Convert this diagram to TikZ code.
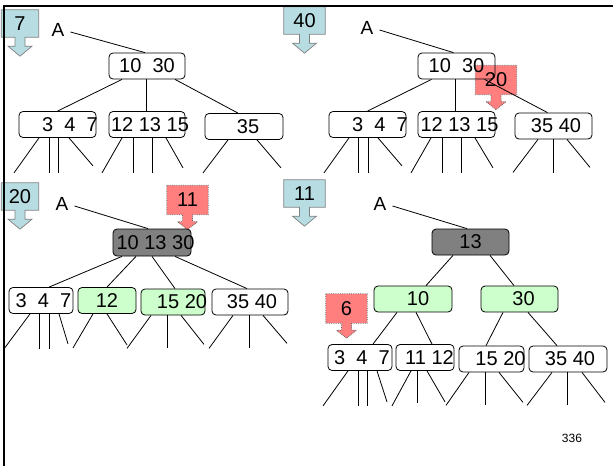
\documentclass[tikz,border=0pt]{standalone}
\usepackage{fontspec}
\setmainfont{Liberation Sans}
\usetikzlibrary{backgrounds}
\definecolor{calloutblue}{RGB}{183,221,227}
\definecolor{calloutred}{RGB}{255,127,127}
\definecolor{keygreen}{RGB}{204,255,204}
\definecolor{keygray}{RGB}{128,128,128}
% key text moved right by #1/2 inside its box
\newcommand\tk[2]{\makebox[0pt]{\hspace*{#1pt}#2}}
% callout outlines: box plus down arrow under it
\newcommand\bluearrow[1]{%
  \filldraw[bluecallpath] (#1.north west) -- (#1.north east) -- (#1.south east)
    -- ([xshift=5pt]#1.south) -- ++(0,9) -- ++(7,0) -- ++(-12,10) -- ++(-12,-10)
    -- ++(7,0) -- ++(0,-9) -- (#1.south west) -- cycle;}
\newcommand\redarrow[1]{%
  \filldraw[redcallpath] (#1.north west) -- (#1.north east) -- (#1.south east)
    -- ([xshift=5pt]#1.south) -- ++(0,7) -- ++(5,0) -- ++(-10,8) -- ++(-10,-8)
    -- ++(5,0) -- ++(0,-7) -- (#1.south west) -- cycle;}
\begin{document}
\begin{tikzpicture}[x=1pt,y=-1pt,
  keyfont/.style={font=\fontsize{20}{24}\selectfont},
  keybox/.style={draw, rounded corners=4pt, inner sep=0pt, minimum height=26pt,
    line width=0.8pt, keyfont},
  greenbox/.style={keybox, fill=keygreen},
  graybox/.style={keybox, fill=keygray},
  bluecall/.style={inner sep=0pt, minimum width=41pt, minimum height=27pt, keyfont},
  redcall/.style={inner sep=0pt, minimum width=41pt, minimum height=29pt, keyfont},
  bluecallpath/.style={fill=calloutblue, draw=keygray, line width=0.7pt},
  redcallpath/.style={fill=calloutred, draw=black!60, densely dotted, line width=0.8pt},
  rootlabel/.style={inner sep=0pt, font=\fontsize{19}{23}\selectfont},
  edge/.style={line width=0.8pt},
  framerule/.style={line width=2.5pt}]
\useasboundingbox (0,0) rectangle (613,466);

% ---------- insertion callouts ----------
\node[bluecall, minimum width=37pt] (k7) at (20,23.5) {7};
\node[bluecall] (k40) at (304.5,20.5) {40};
\node[bluecall, minimum width=37pt] (k20) at (20,196.5) {20};
\node[bluecall] (k11) at (304.5,193.5) {11};
\node[redcall] (k20r) at (496,80) {20};
\node[redcall] (k11r) at (187.5,200) {11};
\node[redcall] (k6) at (346.5,308.5) {6};
\begin{pgfonlayer}{background}
  \bluearrow{k7}\bluearrow{k40}\bluearrow{k20}\bluearrow{k11}
  \redarrow{k20r}\redarrow{k11r}\redarrow{k6}
\end{pgfonlayer}

% ---------- slide frame ----------
\draw[framerule] (4,466) -- (4,6) -- (613,6);

% ---------- tree 1: after inserting 7 ----------
\node[rootlabel] (A1) at (58,30) {A};
\node[keybox, minimum width=76pt] (r1) at (147,66) {10~~30};
\node[keybox, minimum width=77pt] (a1) at (57.5,124.5) {\tk{25}{3~~4~~7}};
\node[keybox, minimum width=76pt] (b1) at (147,124.5) {\tk{6}{12 13 15}};
\node[keybox, minimum width=78pt] (c1) at (244,126.5) {\tk{8}{35}};
\draw[edge] ([xshift=6pt,yshift=-2pt]A1.east) -- ([xshift=-2pt]r1.north);
\draw[edge] ([xshift=-25pt]r1.south) -- (a1.north);
\draw[edge] ([xshift=-1pt]r1.south) -- ([xshift=-1pt,yshift=-1pt]b1.north);
\draw[edge] ([xshift=28pt]r1.south) -- ([xshift=-6pt]c1.north);
\draw[edge] ([xshift=-18.5pt]a1.south) -- ++(-25,35);
\draw[edge] ([xshift=-8.5pt]a1.south) -- ++(0,35);
\draw[edge] ([xshift=0.5pt]a1.south) -- ++(0,35);
\draw[edge] ([xshift=11.5pt]a1.south) -- ++(24,28);
\draw[edge] ([xshift=-25pt]b1.south) -- ++(-20,35);
\draw[edge] ([xshift=-14pt]b1.south) -- ++(0,35);
\draw[edge] ([xshift=5pt]b1.south) -- ++(0,35);
\draw[edge] ([xshift=19pt]b1.south) -- ++(17,30);
\draw[edge] ([xshift=-16pt]c1.south) -- ++(-25,33);
\draw[edge] ([xshift=13pt]c1.south) -- ++(24,28);

% ---------- tree 2: after inserting 40 ----------
\node[rootlabel] (A2) at (367,28) {A};
\node[keybox, minimum width=77pt] (r2) at (456.5,66) {10~~30};
\node[keybox, minimum width=77pt] (a2) at (367.5,124.5) {\tk{25}{3~~4~~7}};
\node[keybox, minimum width=77pt] (b2) at (456.5,124.5) {\tk{6}{12 13 15}};
\node[keybox, minimum width=77pt] (c2) at (553.5,126) {\tk{5}{35 40}};
\draw[edge] ([xshift=6pt,yshift=-2pt]A2.east) -- ([xshift=-3pt]r2.north);
\draw[edge] ([xshift=-25pt]r2.south) -- (a2.north);
\draw[edge] ([xshift=-1pt]r2.south) -- ([xshift=-1pt,yshift=-1pt]b2.north);
\draw[edge] ([xshift=28pt]r2.south) -- ([xshift=-6pt]c2.north);
\draw[edge] ([xshift=-18.5pt]a2.south) -- ++(-25,35);
\draw[edge] ([xshift=-9.5pt]a2.south) -- ++(0,35);
\draw[edge] ([xshift=0.5pt]a2.south) -- ++(0,35);
\draw[edge] ([xshift=10.5pt]a2.south) -- ++(24,28);
\draw[edge] ([xshift=-25.5pt]b2.south) -- ++(-20,35);
\draw[edge] ([xshift=-14.5pt]b2.south) -- ++(0,35);
\draw[edge] ([xshift=4.5pt]b2.south) -- ++(0,35);
\draw[edge] ([xshift=18.5pt]b2.south) -- ++(18,30);
\draw[edge] ([xshift=-15.5pt]c2.south) -- ++(-25,33);
\draw[edge] (c2.south) -- ++(0,34);
\draw[edge] ([xshift=13.5pt]c2.south) -- ++(23,28);

% ---------- tree 3: after inserting 20 ----------
\node[rootlabel] (A3) at (62,204) {A};
\node[graybox, minimum width=78pt, minimum height=27pt] (r3) at (152,242.5) {\tk{7}{10 13 30}};
\node[keybox, minimum width=64pt] (a3) at (41,300.5) {\tk{5}{3~~4~~7}};
\node[greenbox, minimum width=58pt] (b3) at (107,300.5) {12};
\node[greenbox, minimum width=64pt] (c3) at (173,302) {\tk{18}{15 20}};
\node[keybox, minimum width=76pt] (d3) at (250,302) {\tk{4}{35 40}};
\draw[edge] ([xshift=6pt,yshift=-2pt]A3.east) -- ([xshift=-4pt]r3.north);
\draw[edge] ([xshift=-30pt]r3.south) -- ([xshift=8pt]a3.north);
\draw[edge] ([xshift=-16pt]r3.south) -- (b3.north);
\draw[edge] (r3.south) -- ([xshift=2pt]c3.north);
\draw[edge] ([xshift=23pt]r3.south) -- ([xshift=-3pt]d3.north);
\draw[edge] ([xshift=-11pt]a3.south) -- ++(-26,35);
\draw[edge] ([xshift=-2pt]a3.south) -- ++(0,35);
\draw[edge] ([xshift=8pt]a3.south) -- ++(0,35);
\draw[edge] ([xshift=18pt]a3.south) -- ++(9,30);
\draw[edge] ([xshift=-14pt]b3.south) -- ++(-20,34);
\draw[edge] (b3.south) -- ++(20,31);
\draw[edge] ([xshift=-22pt]c3.south) -- ++(-24,33);
\draw[edge] ([xshift=-6pt]c3.south) -- ++(0,33);
\draw[edge] ([xshift=8pt]c3.south) -- ++(23,29);
\draw[edge] ([xshift=-17pt]d3.south) -- ++(-24,33);
\draw[edge] ([xshift=-1pt]d3.south) -- ++(0,33);
\draw[edge] ([xshift=13pt]d3.south) -- ++(24,28);

% ---------- tree 4: after inserting 11 ----------
\node[rootlabel] (A4) at (380,204) {A};
\node[graybox, minimum width=77pt] (r4) at (470.5,242) {13};
\node[greenbox, minimum width=78pt] (b4) at (413,299) {\tk{10}{10}};
\node[greenbox, minimum width=77pt] (c4) at (519.5,299) {\tk{8}{30}};
\node[keybox, minimum width=64pt] (d4) at (360,357.5) {\tk{4}{3~~4~~7}};
\node[keybox, minimum width=58pt] (e4) at (425,357.5) {\tk{9}{11 12}};
\node[keybox, minimum width=65pt] (f4) at (491.5,359) {\tk{18}{15 20}};
\node[keybox, minimum width=78pt] (g4) at (568,359) {\tk{4}{35 40}};
\draw[edge] ([xshift=6pt,yshift=-2pt]A4.east) -- ([xshift=-3.5pt]r4.north);
\draw[edge] ([xshift=-17.5pt]r4.south) -- ([xshift=13pt]b4.north);
\draw[edge] ([xshift=19.5pt]r4.south) -- ([xshift=-5.5pt]c4.north);
\draw[edge] ([xshift=-16pt]b4.south) -- ([xshift=13pt]d4.north);
\draw[edge] ([xshift=3pt]b4.south) -- ([xshift=7pt]e4.north);
\draw[edge] ([xshift=-16.5pt]c4.south) -- ([xshift=-5.5pt]f4.north);
\draw[edge] ([xshift=8.5pt]c4.south) -- ([xshift=-11pt]g4.north);
\draw[edge] ([xshift=-12pt]d4.south) -- ++(-25,35);
\draw[edge] ([xshift=-2pt]d4.south) -- ++(0,35);
\draw[edge] ([xshift=7pt]d4.south) -- ++(0,35);
\draw[edge] ([xshift=17pt]d4.south) -- ++(10,31);
\draw[edge] ([xshift=-14pt]e4.south) -- ++(-19,35);
\draw[edge] ([xshift=-8pt,yshift=1pt]e4.south) -- ++(0,33);
\draw[edge] ([xshift=2pt]e4.south) -- ++(18,31);
\draw[edge] ([xshift=-22.5pt]f4.south) -- ++(-23,33);
\draw[edge] ([xshift=-6.5pt]f4.south) -- ++(0,33);
\draw[edge] ([xshift=7.5pt]f4.south) -- ++(24,30);
\draw[edge] ([xshift=-16pt]g4.south) -- ++(-25,33);
\draw[edge] ([xshift=-1pt]g4.south) -- ++(0,33);
\draw[edge] ([xshift=14pt]g4.south) -- ++(23,30);

% ---------- page number ----------
\node[font=\fontsize{12}{14}\selectfont] (pg) at (572,438) {336};
\end{tikzpicture}
\end{document}
